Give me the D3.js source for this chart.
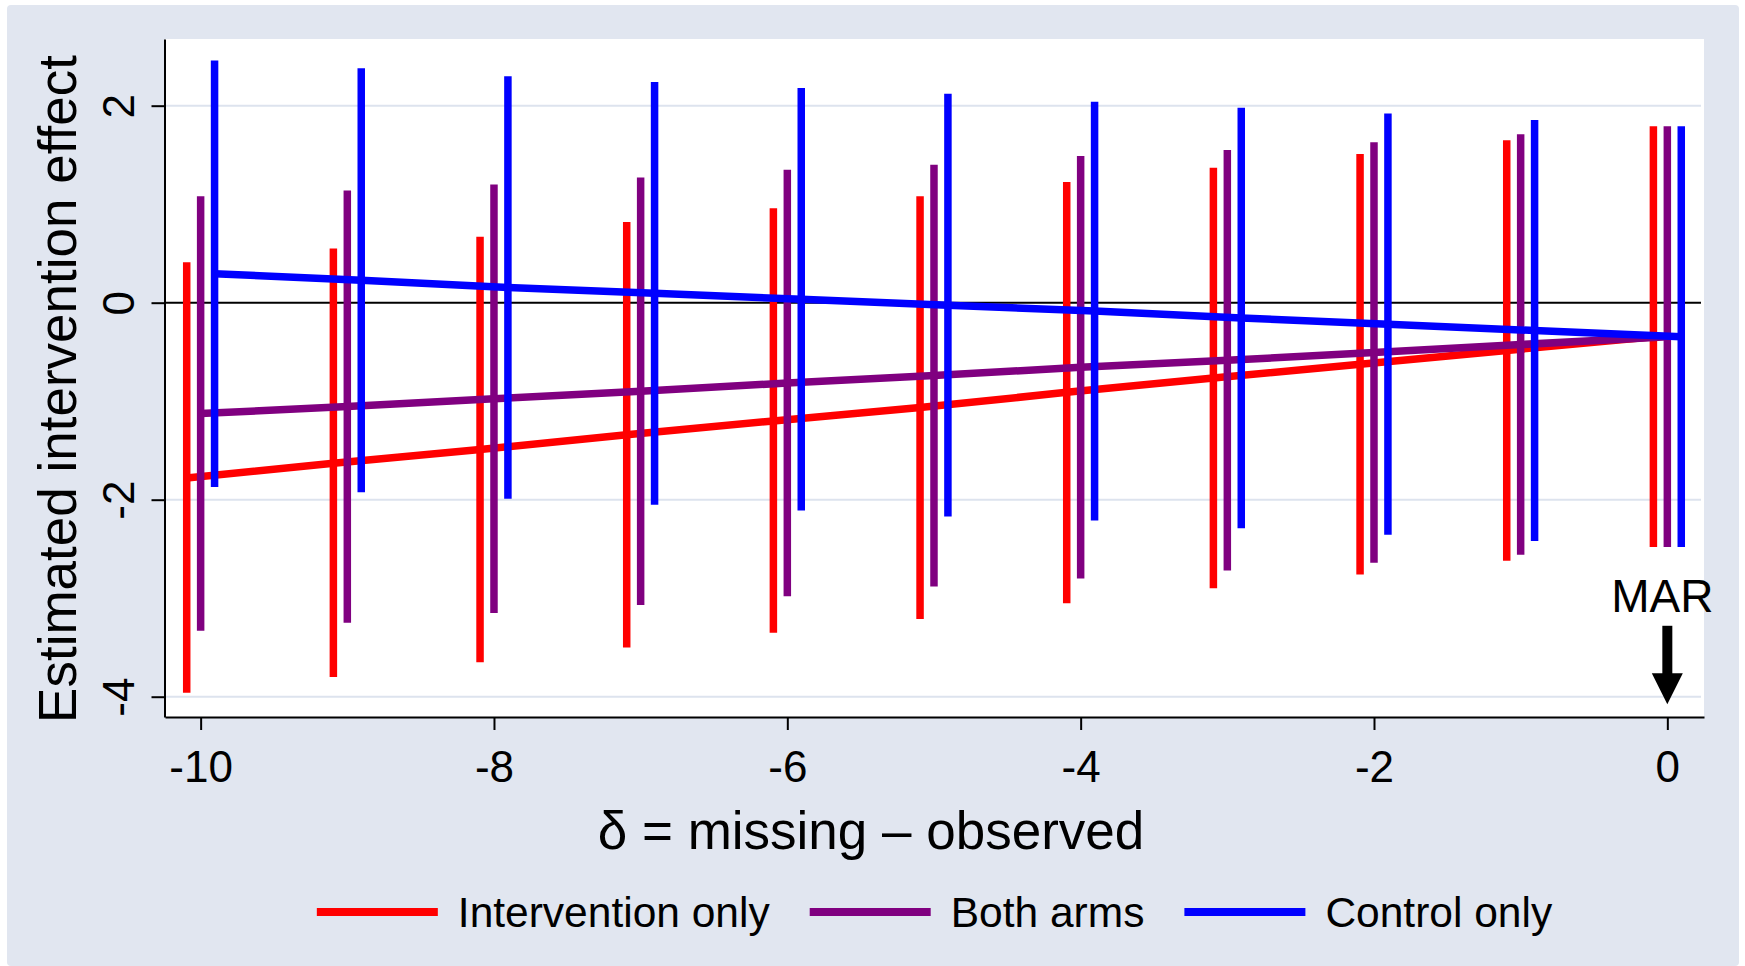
<!DOCTYPE html>
<html>
<head>
<meta charset="utf-8">
<script src="https://cdn.jsdelivr.net/npm/d3@7"></script>
<style>
  body { margin: 0; background: #fff; }
  text { font-family: "Liberation Sans", Arial, sans-serif; fill: #000; }
</style>
</head>
<body>
<svg width="1745" height="966"></svg>
<script>
var svg = d3.select("svg"),
    width = +svg.attr("width"),
    height = +svg.attr("height");

// delta values (missing - observed)
var deltas = [-10, -9, -8, -7, -6, -5, -4, -3, -2, -1, 0];
var seriesNames = ["Intervention only", "Both arms", "Control only"];
var seriesColors = ["#ff0000", "#800080", "#0000ff"];
var xTicks = [-10, -8, -6, -4, -2, 0];
var yTicks = [-4, -2, 0, 2];

// intervention only
var intEst = [-1.78, -1.63, -1.49, -1.34, -1.20, -1.065, -0.91, -0.765, -0.625, -0.485, -0.345];
var intLo  = [-3.96, -3.80, -3.65, -3.50, -3.35, -3.21, -3.05, -2.90, -2.76, -2.62, -2.48];
var intHi  = [0.41, 0.55, 0.67, 0.82, 0.96, 1.08, 1.225, 1.37, 1.51, 1.65, 1.79];
// both arms
var bothEst = [-1.125, -1.055, -0.975, -0.90, -0.815, -0.74, -0.655, -0.585, -0.505, -0.425, -0.345];
var bothLo  = [-3.33, -3.25, -3.15, -3.07, -2.98, -2.88, -2.80, -2.72, -2.64, -2.56, -2.48];
var bothHi  = [1.08, 1.14, 1.20, 1.27, 1.35, 1.40, 1.49, 1.55, 1.63, 1.71, 1.79];
// control only
var ctlEst = [0.295, 0.228, 0.155, 0.095, 0.035, -0.025, -0.085, -0.155, -0.218, -0.283, -0.345];
var ctlLo  = [-1.87, -1.925, -1.99, -2.05, -2.11, -2.17, -2.21, -2.29, -2.355, -2.42, -2.48];
var ctlHi  = [2.46, 2.38, 2.30, 2.24, 2.18, 2.12, 2.04, 1.98, 1.92, 1.855, 1.79];

// small horizontal shift so the three intervals sit side by side
var offsets = [-0.095, 0, 0.095];

var series = [
  {est: intEst, lo: intLo, hi: intHi},
  {est: bothEst, lo: bothLo, hi: bothHi},
  {est: ctlEst, lo: ctlLo, hi: ctlHi}
];

var plot = {left: 165, right: 1704, top: 39, bottom: 717};

var x = d3.scaleLinear()
  .domain([-10.243, 0.25])
  .range([plot.left, plot.right]);

var y = d3.scaleLinear()
  .domain([-4.206, 2.677])
  .range([plot.bottom, plot.top]);

// graph region + plot region
svg.append("rect")
  .attr("x", 7).attr("y", 5)
  .attr("width", width - 13).attr("height", height - 5)
  .attr("rx", 4)
  .style("fill", "#e1e6f0");

svg.append("rect")
  .attr("x", plot.left).attr("y", plot.top)
  .attr("width", plot.right - plot.left).attr("height", plot.bottom - plot.top)
  .style("fill", "#fff");

// grid lines
svg.append("g")
  .selectAll("line")
  .data(yTicks.filter(function(d) { return d !== 0; }))
  .enter().append("line")
  .attr("x1", plot.left).attr("x2", plot.right - 3)
  .attr("y1", function(d) { return y(d); })
  .attr("y2", function(d) { return y(d); })
  .style("stroke", "#dde3ee")
  .style("stroke-width", 2);

// reference line at zero
svg.append("line")
  .attr("x1", plot.left).attr("x2", plot.right - 3)
  .attr("y1", y(0)).attr("y2", y(0))
  .style("stroke", "#000")
  .style("stroke-width", 2);

var line = d3.line()
  .x(function(d) { return x(d.x); })
  .y(function(d) { return y(d.y); });

series.forEach(function(s, i) {
  var pts = deltas.map(function(d, j) {
    return {x: d + offsets[i], lo: s.lo[j], hi: s.hi[j], y: s.est[j]};
  });

  svg.append("g")
    .selectAll("line")
    .data(pts)
    .enter().append("line")
    .attr("x1", function(d) { return x(d.x); })
    .attr("x2", function(d) { return x(d.x); })
    .attr("y1", function(d) { return y(d.lo); })
    .attr("y2", function(d) { return y(d.hi); })
    .style("stroke", seriesColors[i])
    .style("stroke-width", 7.5);

  svg.append("path")
    .datum(pts)
    .attr("d", line)
    .style("fill", "none")
    .style("stroke", seriesColors[i])
    .style("stroke-width", 7.5);
});

// axes
var xAxis = svg.append("g")
  .attr("transform", "translate(0," + plot.bottom + ")")
  .call(d3.axisBottom(x).tickValues(xTicks).tickSize(13).tickSizeOuter(0)
    .tickFormat(function(d) { return String(d); }));

xAxis.selectAll("text")
  .attr("y", 65).attr("dy", 0)
  .style("font-size", "44px");

var yAxis = svg.append("g")
  .attr("transform", "translate(" + (plot.left - 0.5) + ",0)")
  .call(d3.axisLeft(y).tickValues(yTicks).tickSize(13).tickSizeOuter(0)
    .tickFormat(function(d) { return String(d); }));

yAxis.selectAll("text")
  .attr("transform", "rotate(-90)")
  .attr("x", 0).attr("y", -31).attr("dy", 0)
  .attr("text-anchor", "middle")
  .style("font-size", "44px");

svg.selectAll(".domain, .tick line")
  .style("stroke", "#000")
  .style("stroke-width", 2);

// axis titles
svg.append("text")
  .attr("transform", "translate(76,389) rotate(-90)")
  .attr("text-anchor", "middle")
  .style("font-size", "53px")
  .text("Estimated intervention effect");

svg.append("text")
  .attr("x", 871).attr("y", 849)
  .attr("text-anchor", "middle")
  .style("font-size", "53px")
  .text("\u03b4 = missing \u2013 observed");

// MAR marker
var mar = {x: 0, label: -3.137, top: -3.28, tip: -4.077};

svg.append("text")
  .attr("x", x(mar.x) - 5).attr("y", y(mar.label))
  .attr("text-anchor", "middle")
  .style("font-size", "46px")
  .text("MAR");

svg.append("line")
  .attr("x1", x(mar.x)).attr("x2", x(mar.x))
  .attr("y1", y(mar.top)).attr("y2", y(mar.tip) - 30)
  .style("stroke", "#000")
  .style("stroke-width", 10);

svg.append("path")
  .attr("d", "M" + (x(mar.x) - 15.5) + "," + (y(mar.tip) - 31) +
    "L" + (x(mar.x) + 15.5) + "," + (y(mar.tip) - 31) +
    "L" + x(mar.x) + "," + y(mar.tip) + "Z")
  .style("fill", "#000");

// legend
var legend = svg.append("g");
var cursor = 0;
seriesNames.forEach(function(name, i) {
  var item = legend.append("g").attr("transform", "translate(" + cursor + ",0)");
  item.append("line")
    .attr("x1", 0).attr("x2", 121)
    .attr("y1", 0).attr("y2", 0)
    .style("stroke", seriesColors[i])
    .style("stroke-width", 8);
  var t = item.append("text")
    .attr("x", 141).attr("y", 15)
    .style("font-size", "42.5px")
    .text(name);
  cursor += 141 + t.node().getComputedTextLength() + 40;
});
cursor -= 40;
legend.attr("transform", "translate(" + ((plot.left + plot.right) / 2 - cursor / 2) + ",912)");
</script>
</body>
</html>
